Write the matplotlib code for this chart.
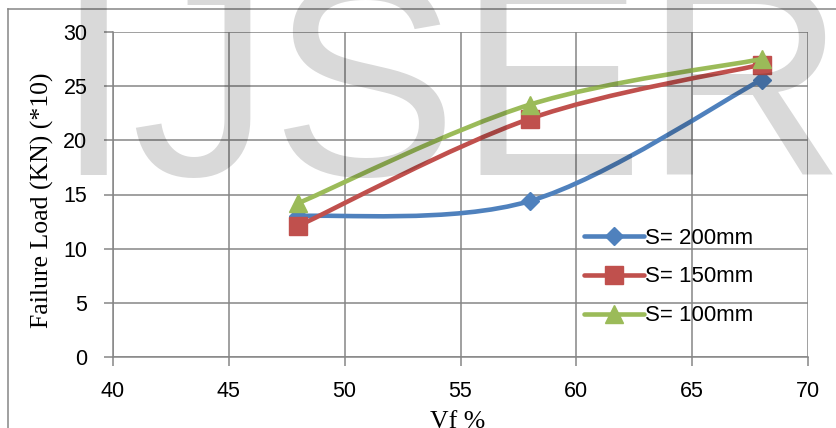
import matplotlib
matplotlib.use('Agg')
import matplotlib.pyplot as plt
from matplotlib.path import Path
from matplotlib.patches import PathPatch
from matplotlib.lines import Line2D
from matplotlib.textpath import TextPath
from matplotlib.font_manager import FontProperties

# data
vf = [48, 58, 68]
load_200 = [13.0, 14.4, 25.6]
load_150 = [12.1, 22.0, 27.0]
load_100 = [14.2, 23.3, 27.5]
labels = ['S= 200mm', 'S= 150mm', 'S= 100mm']
colors = ['#4F81BD', '#C0504D', '#9BBB59']
markers = ['D', 's', '^']
msizes = [9.5, 12.5, 13]


def smooth_path(x, y):
    # Excel style smoothed line: cubic bezier, catmull-rom control points
    pts = list(zip(x, y))
    n = len(pts)
    verts = [pts[0]]
    codes = [Path.MOVETO]
    for i in range(n - 1):
        p0 = pts[max(i - 1, 0)]
        p1 = pts[i]
        p2 = pts[i + 1]
        p3 = pts[min(i + 2, n - 1)]
        c1 = (p1[0] + (p2[0] - p0[0]) / 6, p1[1] + (p2[1] - p0[1]) / 6)
        c2 = (p2[0] - (p3[0] - p1[0]) / 6, p2[1] - (p3[1] - p1[1]) / 6)
        verts += [c1, c2, p2]
        codes += [Path.CURVE4] * 3
    return Path(verts, codes)


plt.rcParams['font.family'] = 'Liberation Sans'

W, H = 836, 428
fig = plt.figure(figsize=(W / 100, H / 100), dpi=100)
ax = fig.add_axes([113 / W, 1 - 357 / H, 695 / W, 325 / H])

gridc = '#868686'
series = [load_200, load_150, load_100]
for k, ys in enumerate(series):
    patch = PathPatch(smooth_path(vf, ys), facecolor='none', edgecolor=colors[k],
                      lw=3.3, capstyle='round', joinstyle='round', zorder=3 + k)
    ax.add_patch(patch)
    ax.plot(vf, ys, linestyle='none', marker=markers[k], markersize=msizes[k],
            color=colors[k], zorder=3 + k)

ax.set_xlim(40, 70)
ax.set_ylim(0, 30)
ax.set_xticks(range(40, 71, 5))
ax.set_yticks(range(0, 31, 5))
ax.grid(True, color=gridc, lw=1.1)
ax.set_axisbelow(True)
for s in ax.spines.values():
    s.set_visible(False)
for side in ['left', 'bottom']:
    ax.spines[side].set_visible(True)
    ax.spines[side].set_color(gridc)
    ax.spines[side].set_linewidth(1.1)
ax.tick_params(axis='both', colors=gridc, labelcolor='black', labelsize=15.5,
               length=6.5, width=1.1, direction='out')
ax.tick_params(axis='y', pad=12)
ax.tick_params(axis='x', pad=11)

handles = [Line2D([0], [0], color=colors[k], lw=3.3, marker=markers[k],
                  markersize=msizes[k], solid_capstyle='round')
           for k in range(3)]
ax.legend(handles, labels, loc='center left', bbox_to_anchor=(584 / W, 1 - 277 / H),
          bbox_transform=fig.transFigure, frameon=False, fontsize=16, numpoints=1,
          handlelength=2.7, handletextpad=0.05, labelspacing=0.8,
          borderpad=0, borderaxespad=0)

fig.text(42 / W, 1 - 200 / H, 'Failure Load (KN) (*10)', rotation=90,
         ha='center', va='center', family='Liberation Serif', fontsize=18.5)
fig.text(458 / W, 1 - 411 / H, 'Vf %', ha='center', va='top',
         family='Liberation Serif', fontsize=18.5)

# outer chart border
fig.add_artist(Line2D([8 / W, 8 / W], [0, 1 - 9 / H], color=gridc, lw=1.1,
                      transform=fig.transFigure))
fig.add_artist(Line2D([8 / W, 1], [1 - 9 / H, 1 - 9 / H], color=gridc, lw=1.1,
                      transform=fig.transFigure))

# watermark: ink runs from x=80 to x=833 px, baseline at y=175 px
fp = FontProperties(family='Liberation Sans')
ink = TextPath((0, 0), 'IJSER', size=1, prop=fp).get_extents()
em_px = (833 - 80) / (ink.x1 - ink.x0)
pen_x = 80 - ink.x0 * em_px
fig.text(pen_x / W, 1 - 175 / H, 'IJSER', ha='left', va='baseline',
         fontproperties=fp, fontsize=em_px * 72 / 100, color='black', alpha=0.15,
         zorder=10)

fig.savefig('out.png', dpi=100)
